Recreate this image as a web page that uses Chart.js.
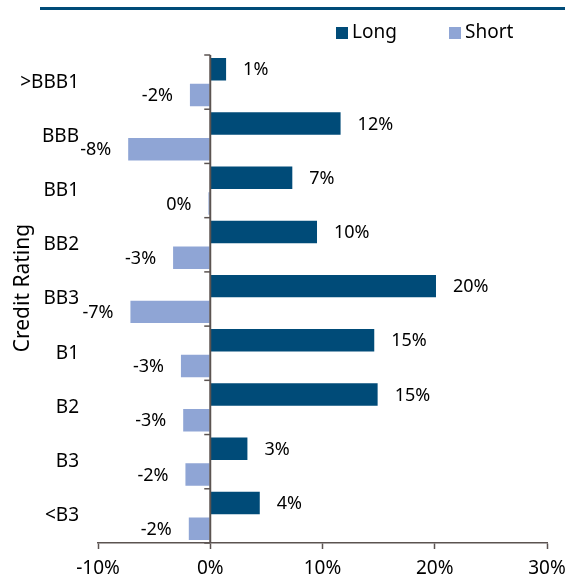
<!DOCTYPE html>
<html>
<head>
<meta charset="utf-8">
<script src="https://cdn.jsdelivr.net/npm/chart.js@4.4.1/dist/chart.umd.min.js"></script>
<style>
  html, body { margin: 0; padding: 0; background: #fff; }
  #wrap { width: 565px; height: 578px; position: relative; }
</style>
</head>
<body>
<div id="wrap"><canvas id="ratingChart"></canvas></div>
<script>
  // Categories (credit rating buckets)
  const ratings = ['>BBB1', 'BBB', 'BB1', 'BB2', 'BB3', 'B1', 'B2', 'B3', '<B3'];

  // Series values, in percent
  const longValues = [1.5, 11.7, 7.4, 9.6, 20.2, 14.7, 15.0, 3.4, 4.5];
  const shortValues = [-1.9, -7.4, -0.25, -3.4, -7.2, -2.7, -2.5, -2.3, -2.0];

  // Printed labels next to the bars
  const longLabels = ['1%', '12%', '7%', '10%', '20%', '15%', '15%', '3%', '4%'];
  const shortLabels = ['-2%', '-8%', '0%', '-3%', '-7%', '-3%', '-3%', '-2%', '-2%'];

  // x axis range / ticks
  const xMin = -10, xMax = 30, xStep = 10;

  const darkBlue = '#004b78';
  const lightBlue = '#8fa5d5';
  const axisGrey = '#5b5350';
  const fontFamily = '"Noto Sans", "DejaVu Sans", sans-serif';

  // Header rule + legend at the top
  const headerLegend = {
    id: 'headerLegend',
    afterDraw(chart) {
      const ctx = chart.ctx;
      ctx.save();
      ctx.fillStyle = darkBlue;
      ctx.fillRect(40, 7, chart.width - 40, 3);

      ctx.font = '19px ' + fontFamily;
      ctx.textBaseline = 'middle';
      ctx.textAlign = 'left';
      const startX = [336, 449];
      chart.data.datasets.forEach((ds, i) => {
        ctx.fillStyle = ds.backgroundColor;
        ctx.fillRect(startX[i], 27, 12, 12);
        ctx.fillStyle = '#000';
        ctx.fillText(ds.label, startX[i] + 16, 33);
      });
      ctx.restore();
    }
  };

  // Zero line with category tick marks
  const zeroAxis = {
    id: 'zeroAxis',
    afterDatasetsDraw(chart) {
      const {ctx, chartArea, scales: {x, y}} = chart;
      const x0 = x.getPixelForValue(0);
      ctx.save();
      ctx.strokeStyle = axisGrey;
      ctx.lineWidth = 2;
      ctx.beginPath();
      ctx.moveTo(x0, chartArea.top);
      ctx.lineTo(x0, chartArea.bottom);
      ctx.stroke();
      const band = y.getPixelForValue(1) - y.getPixelForValue(0);
      ctx.lineWidth = 1.5;
      for (let i = 0; i <= ratings.length; i++) {
        const yy = y.getPixelForValue(i) - band / 2;
        ctx.beginPath();
        ctx.moveTo(x0 - 6, yy);
        ctx.lineTo(x0, yy);
        ctx.stroke();
      }
      ctx.restore();
    }
  };

  // Value labels beside each bar
  const barLabels = {
    id: 'barLabels',
    afterDatasetsDraw(chart) {
      const ctx = chart.ctx;
      ctx.save();
      ctx.font = '18px ' + fontFamily;
      ctx.fillStyle = '#000';
      ctx.textBaseline = 'middle';
      chart.getDatasetMeta(0).data.forEach((bar, i) => {
        ctx.textAlign = 'left';
        ctx.fillText(longLabels[i], bar.x + 16, bar.y + 1);
      });
      chart.getDatasetMeta(1).data.forEach((bar, i) => {
        ctx.textAlign = 'right';
        ctx.fillText(shortLabels[i], bar.x - 16, bar.y + 1);
      });
      ctx.restore();
    }
  };

  const config = {
    type: 'bar',
    data: {
      labels: ratings,
      datasets: [{
        label: 'Long',
        data: longValues,
        backgroundColor: darkBlue,
        borderColor: 'rgba(255,255,255,0.3)',
        borderWidth: 1,
        categoryPercentage: 0.95,
        barPercentage: 0.95
      }, {
        label: 'Short',
        data: shortValues,
        backgroundColor: lightBlue,
        borderColor: 'rgba(255,255,255,0.3)',
        borderWidth: 1,
        categoryPercentage: 0.95,
        barPercentage: 0.95
      }]
    },
    options: {
      indexAxis: 'y',
      responsive: true,
      maintainAspectRatio: false,
      animation: false,
      layout: { padding: { top: 55, right: 0, bottom: 0, left: 0 } },
      plugins: {
        legend: { display: false },
        tooltip: { enabled: false }
      },
      scales: {
        x: {
          min: xMin,
          max: xMax,
          afterFit(scale) {
            scale.height = 35;
            scale.paddingRight = 18;
          },
          ticks: {
            stepSize: xStep,
            color: '#000',
            padding: 10,
            font: { family: fontFamily, size: 19, lineHeight: 1 },
            callback: v => v + '%'
          },
          grid: {
            drawOnChartArea: false,
            drawTicks: true,
            tickLength: 6,
            tickColor: axisGrey,
            tickWidth: 1.5
          },
          border: { color: axisGrey, width: 1.5 }
        },
        y: {
          afterFit(scale) { scale.width = 98; },
          grid: { display: false },
          border: { display: false },
          ticks: {
            color: '#000',
            padding: 11,
            font: { family: fontFamily, size: 19 }
          },
          title: {
            display: true,
            text: '    Credit Rating',
            color: '#000',
            padding: { top: 10, bottom: 0 },
            font: { family: fontFamily, size: 21 }
          }
        }
      }
    },
    plugins: [headerLegend, zeroAxis, barLabels]
  };

  const ratingChart = new Chart(document.getElementById('ratingChart'), config);
</script>
</body>
</html>
